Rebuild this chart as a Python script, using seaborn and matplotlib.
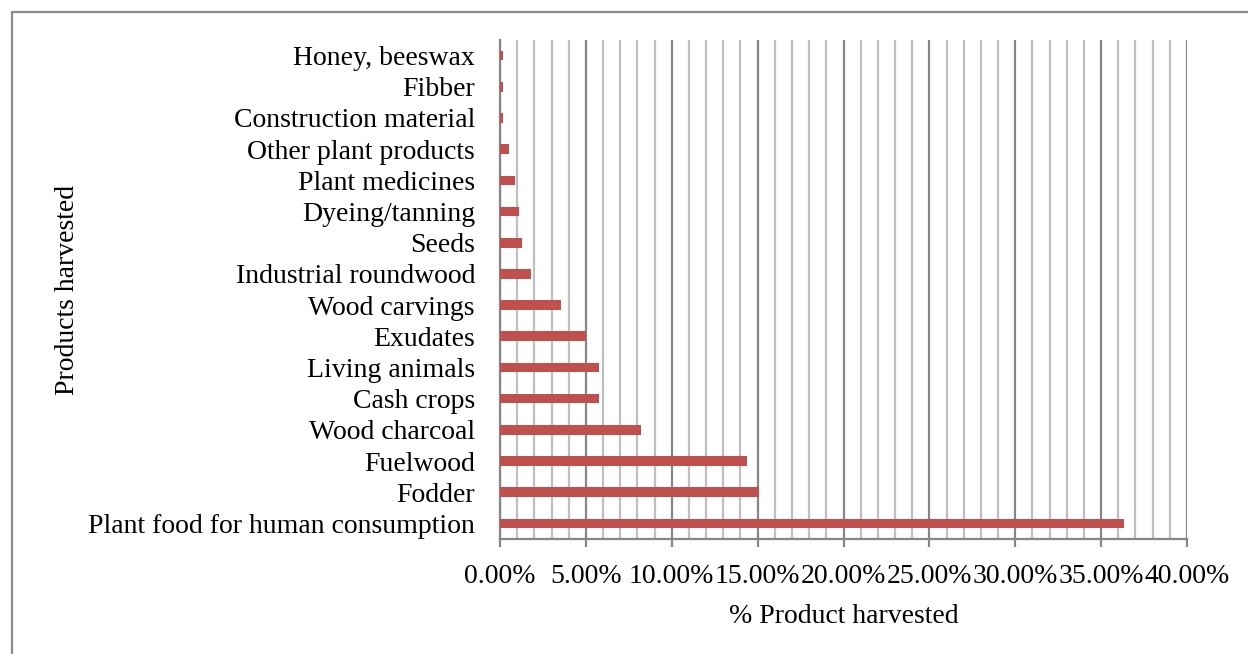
import matplotlib
matplotlib.use("Agg")
import matplotlib.pyplot as plt
import matplotlib.ticker as mticker
from matplotlib.lines import Line2D
import seaborn as sns
import pandas as pd

products = [
    "Honey, beeswax", "Fibber", "Construction material", "Other plant products",
    "Plant medicines", "Dyeing/tanning", "Seeds", "Industrial roundwood",
    "Wood carvings", "Exudates", "Living animals", "Cash crops",
    "Wood charcoal", "Fuelwood", "Fodder", "Plant food for human consumption",
]
share_pct = [0.18, 0.18, 0.18, 0.53, 0.88, 1.09, 1.27, 1.79,
             3.56, 5.00, 5.74, 5.74, 8.20, 14.36, 15.08, 36.35]
x_ticks = [0, 5, 10, 15, 20, 25, 30, 35, 40]

df = pd.DataFrame({"product": products, "share": share_pct})

sns.set_theme(style="white")
plt.rcParams["font.family"] = ["Liberation Serif", "DejaVu Serif"]

fig = plt.figure(figsize=(12.48, 6.54), dpi=100)
ax = fig.add_axes([500 / 1248, 1 - 539 / 654, 687 / 1248, 499 / 654])

sns.barplot(data=df, x="share", y="product", order=products, orient="h",
            color="#C0504D", saturation=1, width=0.31, linewidth=0,
            ax=ax, zorder=3)

ax.set_xlim(0, 40)
ax.set_ylim(len(products) - 0.5, -0.5)
ax.xaxis.set_major_locator(mticker.FixedLocator(x_ticks))
ax.xaxis.set_minor_locator(mticker.MultipleLocator(1))
ax.xaxis.set_major_formatter(mticker.FuncFormatter(lambda v, p: f"{v:.2f}%"))

ax.grid(which="minor", axis="x", color="#BFBFBF", linewidth=1.6, zorder=0)
ax.grid(which="major", axis="x", color="#868686", linewidth=1.6, zorder=1)
ax.set_axisbelow(True)

for s in ["top", "right"]:
    ax.spines[s].set_visible(False)
ax.spines["left"].set_color("#868686")
ax.spines["left"].set_linewidth(1.6)
ax.spines["bottom"].set_color("#868686")
ax.spines["bottom"].set_linewidth(1.6)

ax.tick_params(axis="x", which="major", length=6, width=1.6, color="#868686",
               direction="out", bottom=True, labelsize=20, pad=12, labelcolor="black")
ax.tick_params(axis="x", which="minor", length=0)
ax.tick_params(axis="y", length=0, labelsize=20, pad=18, labelcolor="black")

ax.set_xlabel("% Product harvested", fontsize=20, labelpad=11, color="black")
ax.set_ylabel("Products harvested", fontsize=20, color="black")
ax.yaxis.set_label_coords(-0.611, 0.5)

# outer chart frame
fig.add_artist(Line2D([12 / 1248, 12 / 1248], [0, 1 - 12 / 654],
                      transform=fig.transFigure, color="#8C8C8C", linewidth=1.6))
fig.add_artist(Line2D([12 / 1248, 1.0], [1 - 12 / 654, 1 - 12 / 654],
                      transform=fig.transFigure, color="#8C8C8C", linewidth=1.6))

fig.savefig("out.png", dpi=100)
